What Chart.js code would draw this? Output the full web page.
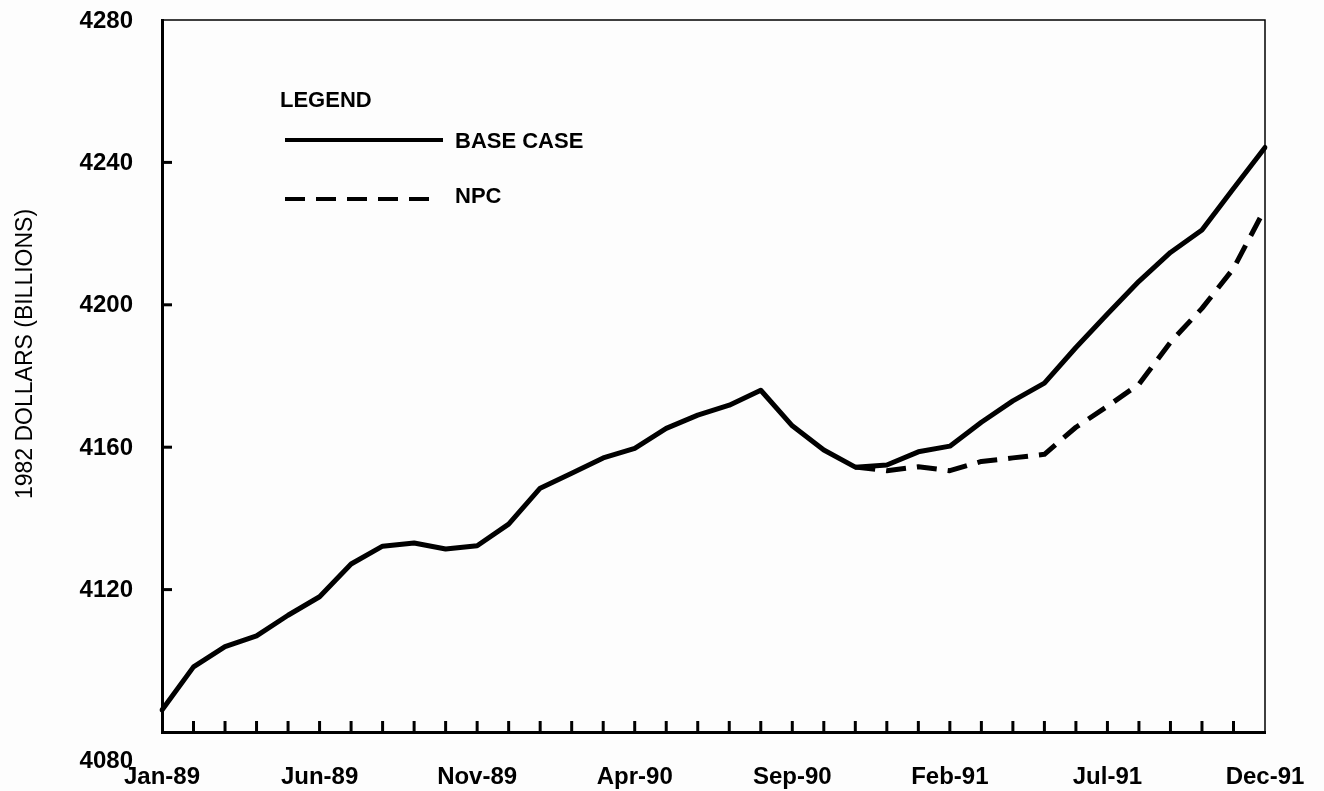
<!DOCTYPE html>
<html>
<head>
<meta charset="utf-8">
<script src="https://cdn.jsdelivr.net/npm/chart.js@4.4.1/dist/chart.umd.min.js"></script>
<style>
  html, body { margin: 0; padding: 0; background: #fdfdfd; }
  #wrap { width: 1324px; height: 791px; }
</style>
</head>
<body>
<div id="wrap"><canvas id="c" width="1324" height="791"></canvas></div>
<script>
const months = [
  'Jan-89','Feb-89','Mar-89','Apr-89','May-89','Jun-89','Jul-89','Aug-89','Sep-89','Oct-89','Nov-89','Dec-89',
  'Jan-90','Feb-90','Mar-90','Apr-90','May-90','Jun-90','Jul-90','Aug-90','Sep-90','Oct-90','Nov-90','Dec-90',
  'Jan-91','Feb-91','Mar-91','Apr-91','May-91','Jun-91','Jul-91','Aug-91','Sep-91','Oct-91','Nov-91','Dec-91'
];
const baseCase = [
  4086.2, 4098.3, 4104.0, 4107.0, 4112.8, 4118.0, 4127.2, 4132.2, 4133.1, 4131.4, 4132.3, 4138.4,
  4148.5, 4152.7, 4157.0, 4159.7, 4165.3, 4169.0, 4171.8, 4176.0, 4166.0, 4159.2, 4154.4, 4155.0,
  4158.7, 4160.3, 4167.0, 4173.0, 4178.0, 4188.0, 4197.4, 4206.6, 4214.7, 4221.0, 4232.7, 4244.2
];
const npc = [
  null, null, null, null, null, null, null, null, null, null, null, null,
  null, null, null, null, null, null, null, null, null, null, 4154.4, 4153.4,
  4154.5, 4153.4, 4156.0, 4157.0, 4158.0, 4165.6, 4171.5, 4177.7, 4189.5, 4199.0, 4210.2, 4227.0
];
const yTickValues = [4080, 4120, 4160, 4200, 4240, 4280];
const yTitle = '1982 DOLLARS (BILLIONS)';
const legendTitle = 'LEGEND';

const FONT = "'Liberation Sans', Arial, Helvetica, sans-serif";

const decorPlugin = {
  id: 'decor',
  afterDraw(chart) {
    const ctx = chart.ctx;
    const ca = chart.chartArea;
    const xs = chart.scales.x;
    const ys = chart.scales.y;
    ctx.save();
    ctx.strokeStyle = '#000';
    ctx.fillStyle = '#000';

    // thin top and right frame
    ctx.lineWidth = 1.5;
    ctx.beginPath();
    ctx.moveTo(ca.left, ca.top);
    ctx.lineTo(ca.right, ca.top);
    ctx.lineTo(ca.right, ca.bottom);
    ctx.stroke();

    // inward ticks on left axis
    ctx.lineWidth = 3;
    ys.ticks.forEach(t => {
      if (t.value === ys.min || t.value === ys.max) return;
      const y = ys.getPixelForValue(t.value);
      ctx.beginPath();
      ctx.moveTo(ca.left, y);
      ctx.lineTo(ca.left + 10, y);
      ctx.stroke();
    });
    // inward ticks on bottom axis
    for (let i = 1; i < months.length - 1; i++) {
      const x = xs.getPixelForValue(i);
      ctx.beginPath();
      ctx.moveTo(x, ca.bottom);
      ctx.lineTo(x, ca.bottom - 11);
      ctx.stroke();
    }

    // y tick labels
    ctx.font = 'bold 24px ' + FONT;
    ctx.textAlign = 'right';
    ctx.textBaseline = 'middle';
    ys.ticks.forEach(t => {
      let y = ys.getPixelForValue(t.value);
      if (t.value === ys.min) y += 28;
      ctx.fillText(String(t.value), 133, y + 1);
    });

    // y axis title
    ctx.save();
    ctx.translate(26, 354);
    ctx.rotate(-Math.PI / 2);
    ctx.textAlign = 'center';
    ctx.textBaseline = 'middle';
    ctx.font = '23px ' + FONT;
    ctx.fillText(yTitle, 0, 0);
    ctx.restore();

    // legend
    ctx.font = 'bold 22px ' + FONT;
    ctx.textAlign = 'left';
    ctx.textBaseline = 'middle';
    ctx.fillText(legendTitle, 280, 101);
    const rows = [
      { y: 140, ty: 142, x0: 285, x1: 443 },
      { y: 199, ty: 197, x0: 285, x1: 440 }
    ];
    chart.data.datasets.forEach((ds, i) => {
      const r = rows[i];
      ctx.save();
      ctx.lineWidth = 4;
      ctx.strokeStyle = ds.borderColor;
      ctx.setLineDash(ds.borderDash || []);
      ctx.beginPath();
      ctx.moveTo(r.x0, r.y);
      ctx.lineTo(r.x1, r.y);
      ctx.stroke();
      ctx.restore();
      ctx.fillText(ds.label, 455, r.ty);
    });
    ctx.restore();
  }
};

new Chart(document.getElementById('c'), {
  type: 'line',
  data: {
    labels: months,
    datasets: [
      {
        label: 'BASE CASE',
        data: baseCase,
        borderColor: '#000',
        borderWidth: 5,
        pointRadius: 0,
        tension: 0,
        fill: false,
        borderJoinStyle: 'round',
        borderCapStyle: 'round'
      },
      {
        label: 'NPC',
        data: npc,
        borderColor: '#000',
        borderWidth: 5,
        borderDash: [20, 11],
        pointRadius: 0,
        tension: 0,
        fill: false,
        borderJoinStyle: 'round'
      }
    ]
  },
  options: {
    responsive: false,
    animation: false,
    devicePixelRatio: 1,
    layout: { padding: { top: 20, right: 59, left: 0, bottom: 0 } },
    plugins: { legend: { display: false }, tooltip: { enabled: false } },
    scales: {
      x: {
        offset: false,
        grid: { display: false, drawTicks: false },
        border: { display: true, color: '#000', width: 3 },
        ticks: {
          autoSkip: false,
          maxRotation: 0,
          minRotation: 0,
          padding: 31,
          color: '#000',
          font: { family: FONT, size: 24, weight: 'bold' },
          callback: function (v, i) { return i % 5 === 0 ? months[i] : ''; }
        },
        afterFit: function (s) { s.height = 59; s.paddingLeft = 0; s.paddingRight = 0; }
      },
      y: {
        min: 4080,
        max: 4280,
        afterBuildTicks: function (s) { s.ticks = yTickValues.map(v => ({ value: v })); },
        grid: { display: false, drawTicks: false },
        border: { display: true, color: '#000', width: 3 },
        ticks: { display: false },
        afterFit: function (s) { s.width = 162; s.paddingTop = 0; s.paddingBottom = 0; }
      }
    }
  },
  plugins: [decorPlugin]
});
</script>
</body>
</html>
